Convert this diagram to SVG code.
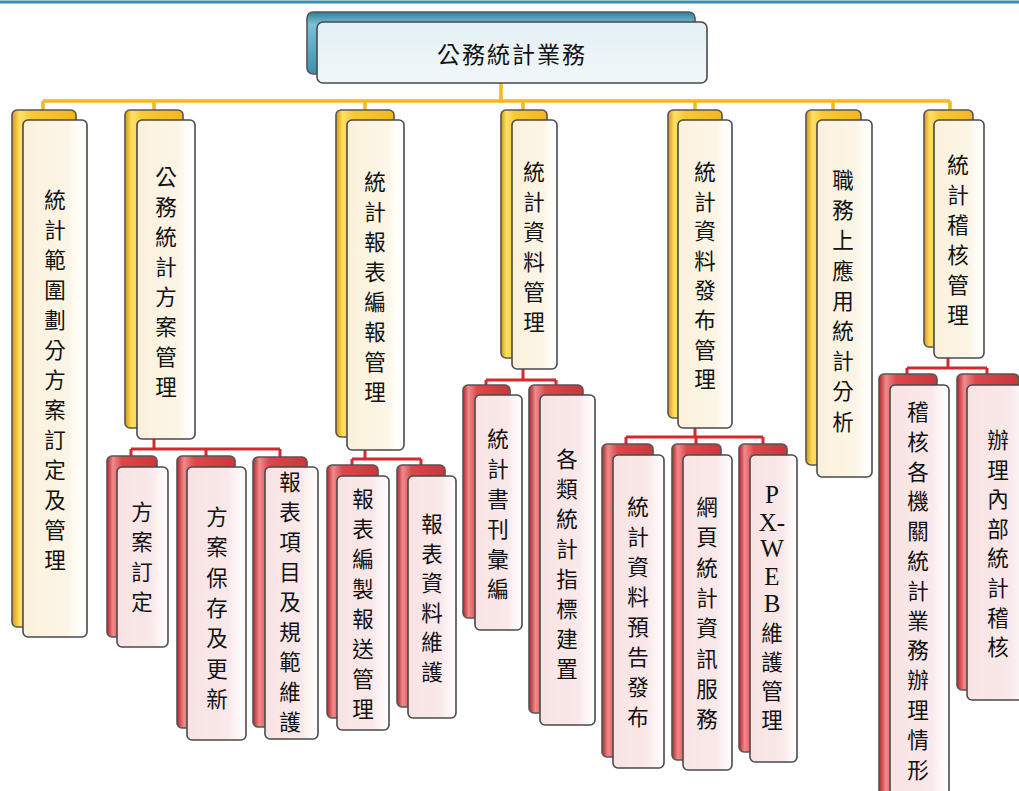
<svg xmlns="http://www.w3.org/2000/svg" width="1019" height="791" viewBox="0 0 1019 791">
<defs>
<linearGradient id="gY" x1="0" y1="0" x2="1" y2="0">
<stop offset="0" stop-color="#d99a00"/><stop offset="0.12" stop-color="#ffe06a"/><stop offset="0.3" stop-color="#fbc832"/><stop offset="1" stop-color="#f3b71c"/>
</linearGradient>
<linearGradient id="gR" x1="0" y1="0" x2="1" y2="0">
<stop offset="0" stop-color="#b3252a"/><stop offset="0.12" stop-color="#f08a8c"/><stop offset="0.3" stop-color="#dc474b"/><stop offset="1" stop-color="#c9373c"/>
</linearGradient>
<linearGradient id="gB" x1="0" y1="0" x2="0" y2="1">
<stop offset="0" stop-color="#2f7d99"/><stop offset="0.2" stop-color="#7cc0d6"/><stop offset="1" stop-color="#3f8faa"/>
</linearGradient>
<linearGradient id="fY" x1="0" y1="0" x2="1" y2="0">
<stop offset="0" stop-color="#fbf1dc"/><stop offset="0.7" stop-color="#fcf5e6"/><stop offset="0.85" stop-color="#fffdf8"/><stop offset="1" stop-color="#ffffff"/>
</linearGradient>
<linearGradient id="fR" x1="0" y1="0" x2="1" y2="0">
<stop offset="0" stop-color="#f8e3e4"/><stop offset="0.7" stop-color="#fae9ea"/><stop offset="0.85" stop-color="#fdf6f6"/><stop offset="1" stop-color="#ffffff"/>
</linearGradient>
<linearGradient id="fB" x1="0" y1="0" x2="0" y2="1">
<stop offset="0" stop-color="#e4f0f4"/><stop offset="1" stop-color="#f1f7f9"/>
</linearGradient>
</defs>
<style>
.by{fill:url(#gY);stroke:#555;stroke-width:1.6}
.br{fill:url(#gR);stroke:#555;stroke-width:1.6}
.bb{fill:url(#gB);stroke:#555;stroke-width:1.6}
.fy{fill:url(#fY);stroke:#4a4a4a;stroke-width:1.6}
.fr{fill:url(#fR);stroke:#4a4a4a;stroke-width:1.6}
.fb{fill:url(#fB);stroke:#4a4a4a;stroke-width:1.6}
.t{font-family:"Noto Sans CJK TC","Noto Sans CJK SC",sans-serif;font-size:21.5px;fill:#111;text-anchor:middle;dominant-baseline:central}
.lat{font-family:"Liberation Serif",serif;font-size:25px}
.cy{fill:none;stroke:#f5b722;stroke-width:3.5}
.cr{fill:none;stroke:#d22a30;stroke-width:3}
</style>
<rect width="1019" height="791" fill="#ffffff"/>
<line x1="0" y1="2" x2="1019" y2="2" stroke="#3b8ea9" stroke-width="3"/>

<g id="connectors">
<path class="cy" d="M501 83V101M43 101H950M43 101V110M154 101V110M365 101V110M523 101V110M695 101V110M833 101V110M950 101V110"/>
<path class="cr" d="M154 439V449M131 449H280M131 449V457M206 449V457M280 449V457"/>
<path class="cr" d="M365 450V459M352 459H421M352 459V466M421 459V466"/>
<path class="cr" d="M523 369V380M486 380H556M486 380V386M556 380V386"/>
<path class="cr" d="M695 428V437M626 437H763M626 437V445M696 437V445M763 437V445"/>
<path class="cr" d="M948 358V368M907 368H987M907 368V375M987 368V375"/>
</g>

<g id="root">
<rect class="bb" x="307" y="12" width="388" height="62" rx="6"/>
<rect class="fb" x="317" y="22" width="390" height="61" rx="6"/>
<text class="t" x="512" y="53" style="font-size:23px;letter-spacing:2px">公務統計業務</text>
</g>

<g id="n1">
<rect class="by" x="12" y="110" width="64" height="517" rx="5"/>
<rect class="fy" x="23" y="120" width="64" height="517" rx="5"/>
<text class="t" x="55" y="198"><tspan x="55" y="198">統</tspan><tspan x="55" dy="30">計</tspan><tspan x="55" dy="30">範</tspan><tspan x="55" dy="30">圍</tspan><tspan x="55" dy="30">劃</tspan><tspan x="55" dy="30">分</tspan><tspan x="55" dy="30">方</tspan><tspan x="55" dy="30">案</tspan><tspan x="55" dy="30">訂</tspan><tspan x="55" dy="30">定</tspan><tspan x="55" dy="30">及</tspan><tspan x="55" dy="30">管</tspan><tspan x="55" dy="30">理</tspan></text>
</g>

<g id="n2">
<rect class="by" x="125" y="110" width="58" height="318" rx="5"/>
<rect class="fy" x="137" y="120" width="58" height="319" rx="5"/>
<text class="t" x="166" y="175"><tspan x="166" y="175">公</tspan><tspan x="166" dy="30">務</tspan><tspan x="166" dy="30">統</tspan><tspan x="166" dy="30">計</tspan><tspan x="166" dy="30">方</tspan><tspan x="166" dy="30">案</tspan><tspan x="166" dy="30">管</tspan><tspan x="166" dy="30">理</tspan></text>
</g>

<g id="n3">
<rect class="by" x="336" y="110" width="58" height="327" rx="5"/>
<rect class="fy" x="347" y="120" width="57" height="330" rx="5"/>
<text class="t" x="375" y="180"><tspan x="375" y="180">統</tspan><tspan x="375" dy="30">計</tspan><tspan x="375" dy="30">報</tspan><tspan x="375" dy="30">表</tspan><tspan x="375" dy="30">編</tspan><tspan x="375" dy="30">報</tspan><tspan x="375" dy="30">管</tspan><tspan x="375" dy="30">理</tspan></text>
</g>

<g id="n4">
<rect class="by" x="501" y="110" width="46" height="248" rx="5"/>
<rect class="fy" x="512" y="120" width="45" height="249" rx="5"/>
<text class="t" x="534" y="170"><tspan x="534" y="170">統</tspan><tspan x="534" dy="30">計</tspan><tspan x="534" dy="30">資</tspan><tspan x="534" dy="30">料</tspan><tspan x="534" dy="30">管</tspan><tspan x="534" dy="30">理</tspan></text>
</g>

<g id="n5">
<rect class="by" x="668" y="110" width="54" height="308" rx="5"/>
<rect class="fy" x="678" y="120" width="54" height="308" rx="5"/>
<text class="t" x="705" y="170"><tspan x="705" y="170">統</tspan><tspan x="705" dy="29.6">計</tspan><tspan x="705" dy="29.6">資</tspan><tspan x="705" dy="29.6">料</tspan><tspan x="705" dy="29.6">發</tspan><tspan x="705" dy="29.6">布</tspan><tspan x="705" dy="29.6">管</tspan><tspan x="705" dy="29.6">理</tspan></text>
</g>

<g id="n6">
<rect class="by" x="806" y="110" width="55" height="355" rx="5"/>
<rect class="fy" x="817" y="120" width="55" height="357" rx="5"/>
<text class="t" x="843" y="178"><tspan x="843" y="178">職</tspan><tspan x="843" dy="30.2">務</tspan><tspan x="843" dy="30.2">上</tspan><tspan x="843" dy="30.2">應</tspan><tspan x="843" dy="30.2">用</tspan><tspan x="843" dy="30.2">統</tspan><tspan x="843" dy="30.2">計</tspan><tspan x="843" dy="30.2">分</tspan><tspan x="843" dy="30.2">析</tspan></text>
</g>

<g id="n7">
<rect class="by" x="924" y="110" width="49" height="237" rx="5"/>
<rect class="fy" x="934" y="120" width="50" height="238" rx="5"/>
<text class="t" x="958" y="163"><tspan x="958" y="163">統</tspan><tspan x="958" dy="30">計</tspan><tspan x="958" dy="30">稽</tspan><tspan x="958" dy="30">核</tspan><tspan x="958" dy="30">管</tspan><tspan x="958" dy="30">理</tspan></text>
</g>

<g id="c21">
<rect class="br" x="107" y="456" width="50" height="181" rx="5"/>
<rect class="fr" x="117" y="467" width="51" height="180" rx="5"/>
<text class="t" x="142" y="510"><tspan x="142" y="510">方</tspan><tspan x="142" dy="30">案</tspan><tspan x="142" dy="30">訂</tspan><tspan x="142" dy="30">定</tspan></text>
</g>

<g id="c22">
<rect class="br" x="177" y="456" width="58" height="272" rx="5"/>
<rect class="fr" x="187" y="467" width="59" height="273" rx="5"/>
<text class="t" x="217" y="515"><tspan x="217" y="515">方</tspan><tspan x="217" dy="30.3">案</tspan><tspan x="217" dy="30.3">保</tspan><tspan x="217" dy="30.3">存</tspan><tspan x="217" dy="30.3">及</tspan><tspan x="217" dy="30.3">更</tspan><tspan x="217" dy="30.3">新</tspan></text>
</g>

<g id="c23">
<rect class="br" x="253" y="457" width="54" height="270" rx="5"/>
<rect class="fr" x="265" y="467" width="53" height="272" rx="5"/>
<text class="t" x="290" y="480"><tspan x="290" y="480">報</tspan><tspan x="290" dy="30">表</tspan><tspan x="290" dy="30">項</tspan><tspan x="290" dy="30">目</tspan><tspan x="290" dy="30">及</tspan><tspan x="290" dy="30">規</tspan><tspan x="290" dy="30">範</tspan><tspan x="290" dy="30">維</tspan><tspan x="290" dy="30">護</tspan></text>
</g>

<g id="c31">
<rect class="br" x="327" y="465" width="51" height="253" rx="5"/>
<rect class="fr" x="337" y="476" width="52" height="254" rx="5"/>
<text class="t" x="363" y="497"><tspan x="363" y="497">報</tspan><tspan x="363" dy="30">表</tspan><tspan x="363" dy="30">編</tspan><tspan x="363" dy="30">製</tspan><tspan x="363" dy="30">報</tspan><tspan x="363" dy="30">送</tspan><tspan x="363" dy="30">管</tspan><tspan x="363" dy="30">理</tspan></text>
</g>

<g id="c32">
<rect class="br" x="397" y="465" width="48" height="242" rx="5"/>
<rect class="fr" x="408" y="476" width="48" height="242" rx="5"/>
<text class="t" x="432" y="522"><tspan x="432" y="522">報</tspan><tspan x="432" dy="29.6">表</tspan><tspan x="432" dy="29.6">資</tspan><tspan x="432" dy="29.6">料</tspan><tspan x="432" dy="29.6">維</tspan><tspan x="432" dy="29.6">護</tspan></text>
</g>

<g id="c41">
<rect class="br" x="463" y="385" width="47" height="233" rx="5"/>
<rect class="fr" x="475" y="395" width="47" height="235" rx="5"/>
<text class="t" x="498" y="437"><tspan x="498" y="437">統</tspan><tspan x="498" dy="30">計</tspan><tspan x="498" dy="30">書</tspan><tspan x="498" dy="30">刊</tspan><tspan x="498" dy="30">彙</tspan><tspan x="498" dy="30">編</tspan></text>
</g>

<g id="c42">
<rect class="br" x="529" y="385" width="54" height="328" rx="5"/>
<rect class="fr" x="540" y="395" width="55" height="330" rx="5"/>
<text class="t" x="567" y="457"><tspan x="567" y="457">各</tspan><tspan x="567" dy="30">類</tspan><tspan x="567" dy="30">統</tspan><tspan x="567" dy="30">計</tspan><tspan x="567" dy="30">指</tspan><tspan x="567" dy="30">標</tspan><tspan x="567" dy="30">建</tspan><tspan x="567" dy="30">置</tspan></text>
</g>

<g id="c51">
<rect class="br" x="602" y="444" width="51" height="313" rx="5"/>
<rect class="fr" x="613" y="455" width="51" height="313" rx="5"/>
<text class="t" x="638" y="505"><tspan x="638" y="505">統</tspan><tspan x="638" dy="30">計</tspan><tspan x="638" dy="30">資</tspan><tspan x="638" dy="30">料</tspan><tspan x="638" dy="30">預</tspan><tspan x="638" dy="30">告</tspan><tspan x="638" dy="30">發</tspan><tspan x="638" dy="30">布</tspan></text>
</g>

<g id="c52">
<rect class="br" x="672" y="444" width="49" height="316" rx="5"/>
<rect class="fr" x="683" y="455" width="49" height="315" rx="5"/>
<text class="t" x="707" y="505"><tspan x="707" y="505">網</tspan><tspan x="707" dy="30.3">頁</tspan><tspan x="707" dy="30.3">統</tspan><tspan x="707" dy="30.3">計</tspan><tspan x="707" dy="30.3">資</tspan><tspan x="707" dy="30.3">訊</tspan><tspan x="707" dy="30.3">服</tspan><tspan x="707" dy="30.3">務</tspan></text>
</g>

<g id="c53">
<rect class="br" x="739" y="444" width="48" height="308" rx="5"/>
<rect class="fr" x="750" y="455" width="47" height="307" rx="5"/>
<text class="t" x="772" y="493"><tspan class="lat" x="772" y="494">P</tspan><tspan class="lat" x="772" y="522">X-</tspan><tspan class="lat" x="772" y="548">W</tspan><tspan class="lat" x="772" y="576">E</tspan><tspan class="lat" x="772" y="603">B</tspan><tspan x="772" y="631">維</tspan><tspan x="772" y="660">護</tspan><tspan x="772" y="689">管</tspan><tspan x="772" y="718">理</tspan></text>
</g>

<g id="c71">
<rect class="br" x="879" y="374" width="58" height="430" rx="5"/>
<rect class="fr" x="890" y="385" width="59" height="420" rx="5"/>
<text class="t" x="918" y="410"><tspan x="918" y="410">稽</tspan><tspan x="918" dy="29.8">核</tspan><tspan x="918" dy="29.8">各</tspan><tspan x="918" dy="29.8">機</tspan><tspan x="918" dy="29.8">關</tspan><tspan x="918" dy="29.8">統</tspan><tspan x="918" dy="29.8">計</tspan><tspan x="918" dy="29.8">業</tspan><tspan x="918" dy="29.8">務</tspan><tspan x="918" dy="29.8">辦</tspan><tspan x="918" dy="29.8">理</tspan><tspan x="918" dy="29.8">情</tspan><tspan x="918" dy="29.8">形</tspan></text>
</g>

<g id="c72">
<rect class="br" x="957" y="374" width="62" height="316" rx="5"/>
<rect class="fr" x="967" y="385" width="62" height="315" rx="5"/>
<text class="t" x="998" y="438"><tspan x="998" y="438">辦</tspan><tspan x="998" dy="29.6">理</tspan><tspan x="998" dy="29.6">內</tspan><tspan x="998" dy="29.6">部</tspan><tspan x="998" dy="29.6">統</tspan><tspan x="998" dy="29.6">計</tspan><tspan x="998" dy="29.6">稽</tspan><tspan x="998" dy="29.6">核</tspan></text>
</g>
</svg>
